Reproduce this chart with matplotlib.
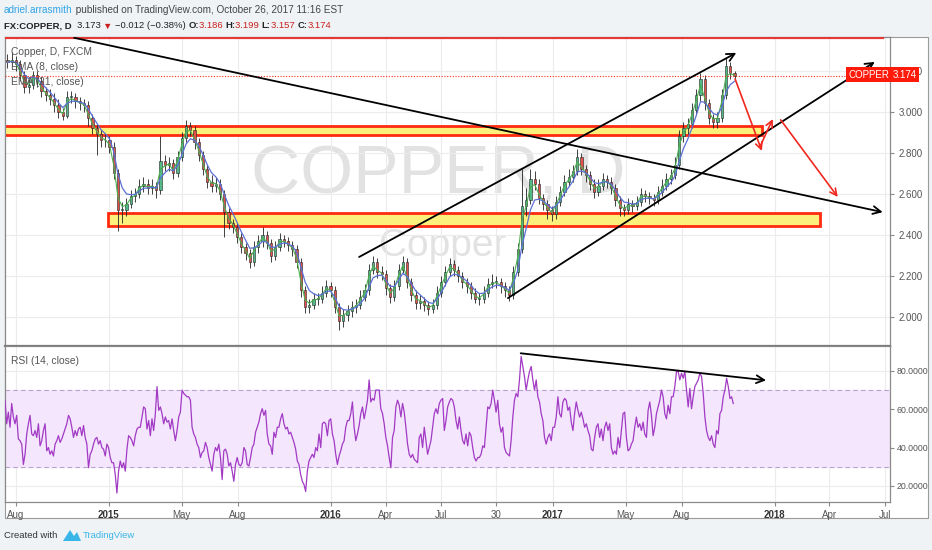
import numpy as np
import pandas as pd
import matplotlib
matplotlib.use('Agg')
import matplotlib.pyplot as plt
import matplotlib.dates as mdates
from matplotlib import font_manager
from matplotlib.patches import Rectangle, Polygon
from matplotlib.ticker import FormatStrFormatter

W, H = 932, 550
FONT = ['Liberation Sans', 'DejaVu Sans']
_names = {f.name for f in font_manager.fontManager.ttflist}
if 'Liberation Sans Narrow' in _names:
    HFONT, HSIZE = ['Liberation Sans Narrow', 'DejaVu Sans'], 8.4
else:
    HFONT, HSIZE = FONT, 6.8

# weekly candles (close, high, low); open = previous close
close = [3.24, 3.25, 3.23, 3.18, 3.12, 3.13, 3.18, 3.15, 3.10, 3.08, 3.06, 3.03, 3.00, 2.98, 3.07, 3.07,
         3.05, 3.04, 3.03, 2.97, 2.92, 2.89, 2.86, 2.86, 2.83, 2.70, 2.52, 2.52, 2.55, 2.59, 2.60, 2.64,
         2.65, 2.63, 2.64, 2.62, 2.76, 2.74, 2.75, 2.70, 2.78, 2.87, 2.93, 2.91, 2.85, 2.79, 2.72, 2.66,
         2.64, 2.65, 2.60, 2.51, 2.46, 2.44, 2.39, 2.34, 2.31, 2.27, 2.34, 2.37, 2.40, 2.36, 2.30, 2.34,
         2.38, 2.37, 2.35, 2.33, 2.27, 2.13, 2.05, 2.06, 2.09, 2.09, 2.12, 2.15, 2.13, 2.05, 1.98, 2.01,
         2.03, 2.05, 2.06, 2.10, 2.13, 2.23, 2.27, 2.22, 2.21, 2.14, 2.10, 2.15, 2.23, 2.27, 2.17, 2.11,
         2.07, 2.08, 2.06, 2.04, 2.06, 2.12, 2.17, 2.22, 2.26, 2.23, 2.20, 2.17, 2.15, 2.12, 2.09, 2.09,
         2.12, 2.16, 2.17, 2.17, 2.15, 2.13, 2.11, 2.22, 2.33, 2.54, 2.57, 2.67, 2.65, 2.58, 2.55, 2.52,
         2.50, 2.56, 2.61, 2.66, 2.68, 2.71, 2.78, 2.72, 2.69, 2.65, 2.61, 2.64, 2.67, 2.66, 2.63, 2.57,
         2.53, 2.52, 2.55, 2.54, 2.56, 2.60, 2.59, 2.58, 2.57, 2.61, 2.64, 2.67, 2.69, 2.74, 2.88, 2.92,
         2.94, 3.01, 3.08, 3.16, 3.04, 2.97, 2.95, 2.97, 3.08, 3.22, 3.19, 3.174]
high = [3.28, 3.29, 3.27, 3.25, 3.20, 3.16, 3.20, 3.20, 3.17, 3.12, 3.11, 3.09, 3.06, 3.02, 3.10, 3.10,
        3.09, 3.07, 3.06, 3.05, 2.99, 2.94, 2.91, 2.89, 2.88, 2.85, 2.72, 2.56, 2.58, 2.62, 2.63, 2.67,
        2.68, 2.67, 2.67, 2.66, 2.88, 2.79, 2.78, 2.77, 2.81, 2.90, 2.96, 2.95, 2.93, 2.87, 2.81, 2.74,
        2.69, 2.68, 2.67, 2.62, 2.53, 2.48, 2.46, 2.41, 2.36, 2.33, 2.37, 2.40, 2.44, 2.42, 2.38, 2.37,
        2.41, 2.40, 2.39, 2.37, 2.35, 2.29, 2.15, 2.09, 2.12, 2.12, 2.15, 2.18, 2.17, 2.15, 2.07, 2.04,
        2.06, 2.08, 2.09, 2.13, 2.16, 2.26, 2.30, 2.29, 2.25, 2.23, 2.16, 2.18, 2.26, 2.30, 2.29, 2.19,
        2.13, 2.11, 2.10, 2.08, 2.09, 2.15, 2.20, 2.25, 2.29, 2.28, 2.25, 2.22, 2.19, 2.17, 2.14, 2.12,
        2.15, 2.19, 2.21, 2.20, 2.19, 2.17, 2.15, 2.25, 2.36, 2.72, 2.63, 2.72, 2.71, 2.67, 2.60, 2.57,
        2.54, 2.59, 2.64, 2.69, 2.72, 2.74, 2.82, 2.80, 2.74, 2.71, 2.67, 2.67, 2.70, 2.69, 2.68, 2.65,
        2.59, 2.55, 2.58, 2.57, 2.59, 2.63, 2.62, 2.61, 2.60, 2.64, 2.67, 2.70, 2.72, 2.78, 2.91, 2.95,
        2.97, 3.04, 3.11, 3.19, 3.18, 3.06, 2.99, 3.00, 3.11, 3.26, 3.24, 3.20]
low = [3.21, 3.22, 3.20, 3.15, 3.09, 3.09, 3.11, 3.12, 3.07, 3.05, 3.03, 3.00, 2.97, 2.96, 2.97, 3.04,
       3.02, 3.01, 3.00, 2.93, 2.89, 2.79, 2.83, 2.83, 2.80, 2.67, 2.42, 2.46, 2.49, 2.53, 2.56, 2.58,
       2.61, 2.60, 2.60, 2.58, 2.60, 2.71, 2.71, 2.67, 2.68, 2.76, 2.85, 2.88, 2.82, 2.76, 2.69, 2.63,
       2.61, 2.61, 2.57, 2.39, 2.43, 2.41, 2.36, 2.31, 2.28, 2.24, 2.25, 2.31, 2.34, 2.33, 2.27, 2.28,
       2.32, 2.34, 2.32, 2.30, 2.24, 2.10, 2.02, 2.02, 2.04, 2.06, 2.07, 2.10, 2.10, 2.02, 1.94, 1.95,
       1.98, 2.00, 2.02, 2.04, 2.08, 2.11, 2.21, 2.19, 2.18, 2.11, 2.07, 2.08, 2.13, 2.21, 2.14, 2.08,
       2.04, 2.04, 2.03, 2.01, 2.02, 2.04, 2.10, 2.15, 2.20, 2.20, 2.17, 2.14, 2.12, 2.09, 2.07, 2.06,
       2.07, 2.10, 2.14, 2.14, 2.12, 2.10, 2.08, 2.09, 2.20, 2.31, 2.49, 2.55, 2.62, 2.55, 2.52, 2.48,
       2.47, 2.48, 2.54, 2.59, 2.64, 2.66, 2.69, 2.69, 2.66, 2.62, 2.58, 2.59, 2.62, 2.63, 2.60, 2.54,
       2.49, 2.49, 2.50, 2.51, 2.52, 2.54, 2.56, 2.55, 2.54, 2.55, 2.59, 2.62, 2.65, 2.67, 2.72, 2.85,
       2.89, 2.92, 2.99, 3.05, 3.01, 2.94, 2.92, 2.92, 2.95, 3.06, 3.16, 3.16]
first_open = 3.25
week_start = '2014-07-18'

rsi = [64.7, 52.4, 58.5, 50.6, 63.0, 56.0, 52.4, 56.8, 44.5, 43.6, 41.8, 31.2, 36.5, 47.1, 52.4, 56.8,
       47.1, 46.2, 48.9, 45.3, 52.4, 40.9, 43.6, 48.9, 52.4, 38.3, 40.0, 36.5, 38.3, 35.6, 41.8, 43.6,
       46.2, 42.7, 44.5, 47.1, 49.7, 52.4, 56.8, 55.0, 50.6, 45.3, 48.9, 46.2, 49.7, 50.6, 46.2, 51.5,
       45.3, 41.8, 29.5, 36.5, 38.3, 41.8, 44.5, 45.3, 41.8, 43.6, 40.0, 39.2, 35.6, 41.8, 40.0, 34.8,
       32.1, 32.1, 26.0, 16.3, 27.7, 33.0, 29.5, 32.1, 27.7, 39.2, 46.2, 45.3, 43.6, 40.9, 46.2, 49.7,
       50.6, 50.6, 56.0, 61.2, 60.3, 49.7, 54.1, 46.2, 55.0, 48.9, 57.7, 71.8, 59.4, 61.2, 57.7, 52.4,
       56.0, 53.3, 54.1, 49.7, 55.0, 48.9, 43.6, 48.9, 56.0, 58.5, 70.0, 68.2, 67.4, 66.5, 66.5, 64.7,
       50.6, 47.1, 45.3, 41.8, 40.0, 34.8, 37.4, 38.3, 42.7, 40.0, 34.8, 31.2, 27.7, 36.5, 40.0, 38.3,
       41.8, 34.8, 23.3, 38.3, 39.2, 36.5, 30.4, 32.1, 27.7, 22.4, 31.2, 34.8, 31.2, 30.4, 32.1, 40.0,
       38.3, 31.2, 30.4, 34.8, 40.0, 41.8, 48.0, 50.6, 53.3, 57.7,
       60.3, 56.8, 59.4, 47.1, 41.8, 40.9, 36.5, 48.0, 45.3, 50.6, 50.6, 55.0, 57.7, 52.4, 49.7, 50.6,
       47.1, 48.0, 45.3, 42.7, 39.2, 33.0, 31.2, 26.0, 22.4, 20.7, 17.1, 27.7, 33.0, 34.8, 36.5, 34.8,
       40.0, 38.3, 47.1, 40.0, 52.4, 53.3, 52.4, 46.2, 54.1, 55.0, 47.1, 43.6, 36.5, 31.2, 35.6, 38.3,
       41.8, 43.6, 50.6, 54.1, 54.1, 57.7, 63.8, 50.6, 43.6, 47.1, 51.5, 57.7, 61.2, 55.0, 59.4, 64.7,
       75.3, 63.8, 65.6, 64.7, 70.0, 70.0, 70.0, 60.3, 57.7, 52.4, 45.3, 40.9, 34.8, 29.5, 45.3, 48.9,
       61.2, 64.7, 62.1, 56.0, 63.0, 58.5, 50.6, 41.8, 36.5, 34.8, 36.5, 33.9, 33.0, 32.1, 45.3, 47.1,
       40.0, 50.6, 43.6, 36.5, 40.0, 43.6, 50.6, 57.7, 60.3, 57.7, 63.0, 64.7, 65.6, 48.9, 54.1, 61.2,
       63.8, 65.6, 64.7, 61.2, 54.1, 49.7, 56.0, 48.9, 43.6, 41.8, 47.1, 40.9, 48.0, 46.2, 40.0, 34.8,
       33.0, 34.8, 34.8, 36.5, 40.9, 40.0, 50.6, 61.2, 60.3, 63.0, 70.0, 64.7, 58.5, 64.7, 52.4,
       48.0, 50.6, 40.0, 37.4, 36.5, 35.6, 43.6, 55.9, 64.7, 68.2, 66.5, 75.3, 87.6, 82.3, 77.0, 70.0,
       75.3, 79.7, 82.3, 75.3, 70.0, 75.3, 66.5, 63.8, 57.7, 54.1, 45.3, 41.8, 45.3, 47.1, 43.6, 50.6,
       50.6, 55.9, 66.5, 57.7, 55.9, 63.8, 65.6, 64.7, 59.4, 61.2, 53.3, 48.9, 57.7, 63.8, 59.4, 55.9,
       58.5, 55.0, 50.6, 52.4, 48.9, 46.2, 39.2, 38.3, 45.3, 50.6, 52.4, 45.3, 49.7, 43.6, 50.6, 53.3,
       48.9, 52.4, 40.0, 36.5, 38.3, 36.5, 45.3, 40.0, 48.9, 57.7, 58.5, 45.3, 38.3, 39.2, 41.8, 43.6,
       50.6, 55.9, 50.6, 52.4, 48.9, 53.3, 47.1, 45.3, 59.4, 63.8, 56.8, 46.2, 50.6, 57.7, 61.2, 64.7,
       70.0, 66.5, 57.7, 55.0, 62.1, 57.7, 66.5, 66.5, 71.8, 79.7, 79.7, 75.3, 78.8, 76.2, 79.7, 70.0,
       61.2, 70.9, 60.3, 66.5, 71.8, 73.5, 75.3, 78.8, 77.0, 68.2, 55.9, 48.9, 45.3, 43.6, 46.2, 41.8,
       40.0, 48.9, 47.1, 57.7, 59.4, 66.5, 70.0, 76.2, 71.8, 65.6, 66.5, 63.0]
rsi_start, rsi_end = '2014-07-14', '2017-10-25'

last_price = 3.174
price_ticks = [2.0, 2.2, 2.4, 2.6, 2.8, 3.0, 3.2]
rsi_ticks = [20, 40, 60, 80]
x_ticks = ['2014-08-01', '2015-01-01', '2015-05-01', '2015-08-01', '2016-01-01', '2016-04-01',
           '2016-07-01', '2016-09-30', '2017-01-01', '2017-05-01', '2017-08-01', '2018-01-01',
           '2018-04-01', '2018-07-01']
x_labels = ['Aug', '2015', 'May', 'Aug', '2016', 'Apr', 'Jul', '30', '2017', 'May', 'Aug', '2018', 'Apr', 'Jul']

# drawings on the chart
black_arrows = [(('2014-11-05', 3.359), ('2018-06-28', 2.511)),
                (('2016-02-17', 2.293), ('2017-10-30', 3.286)),
                (('2016-10-19', 2.093), ('2018-06-15', 3.242))]
red_arrows = [(('2017-10-28', 3.159), ('2017-12-11', 2.809)),
              (('2017-12-08', 2.830), ('2017-12-29', 2.964)),
              (('2018-01-11', 2.960), ('2018-04-15', 2.585))]
zones = [('2014-07-01', '2017-12-12', 2.884, 2.931),
         ('2014-12-31', '2018-03-16', 2.446, 2.506)]
rsi_arrow = (('2016-11-09', 89.2), ('2017-12-18', 75.1))

x_lo, x_hi = pd.Timestamp('2014-07-14'), pd.Timestamp('2018-07-10')

# ---------------------------------------------------------------
fig = plt.figure(figsize=(W / 100, H / 100), dpi=100, facecolor='#f0f3f6')


def fx(px):
    return px / W


def fy(py):
    return 1 - py / H


fig.patches.append(Rectangle((fx(5), fy(518)), fx(928) - fx(5), fy(37) - fy(518),
                             transform=fig.transFigure, facecolor='white', edgecolor='#9a9a9a',
                             lw=0.8, zorder=-10))

ax = fig.add_axes([fx(5), fy(346), fx(890) - fx(5), fy(37) - fy(346)])
axr = fig.add_axes([fx(5), fy(502), fx(890) - fx(5), fy(346) - fy(502)], sharex=ax)

for a in (ax, axr):
    a.set_facecolor('white')
    a.grid(True, color='#ececec', lw=0.8)
    a.set_axisbelow(True)
    for s in a.spines.values():
        s.set_color('#8a8a8a')
        s.set_linewidth(0.9)
    a.yaxis.tick_right()
    a.tick_params(axis='y', direction='out', length=3, pad=3, labelsize=7,
                  colors='#8a8a8a', labelcolor='#555555')
axr.tick_params(axis='y', labelsize=6.3, pad=2)
ax.spines['bottom'].set_linewidth(1.6)
ax.spines['bottom'].set_color('#777777')

# watermark
ax.text(0.49, 0.555, 'COPPER, D', transform=ax.transAxes, fontsize=49, color='#e2e2e2',
        family=FONT, ha='center', va='center', zorder=0.5)
ax.text(0.495, 0.325, 'Copper', transform=ax.transAxes, fontsize=28, color='#e2e2e2',
        family=FONT, ha='center', va='center', zorder=0.5)

# zones
for d0, d1, y0, y1 in zones:
    x0, x1 = mdates.date2num(pd.Timestamp(d0)), mdates.date2num(pd.Timestamp(d1))
    ax.add_patch(Rectangle((x0, y0), x1 - x0, y1 - y0, facecolor='#fbf07c', edgecolor='#ff2a10',
                           lw=2.0, zorder=1.5))

# candles
dates = pd.date_range(week_start, periods=len(close), freq='7D')
xd = mdates.date2num(dates)
opens = [first_open] + close[:-1]
ax.vlines(xd, low, high, color='#222222', lw=0.6, zorder=3)
for x, o, c in zip(xd, opens, close):
    col = '#53b987' if c >= o else '#e0524a'
    bot, hgt = min(o, c), max(abs(c - o), 0.004)
    ax.add_patch(Rectangle((x - 1.8, bot), 3.6, hgt, facecolor=col, edgecolor='#222222',
                           lw=0.4, zorder=3.2))

# EMA(8) and EMA(21) of daily data, applied to weekly closes (5 sessions per week)
s = pd.Series(close, index=dates)
ema8 = s.ewm(alpha=1 - (1 - 2 / 9) ** 5, adjust=False).mean()
ema21 = s.ewm(alpha=1 - (1 - 2 / 22) ** 5, adjust=False).mean()
ax.plot(dates, ema8, color='#4caf50', lw=0.8, zorder=4)
ax.plot(dates, ema21, color='#5b6fd6', lw=0.9, zorder=4)

# price lines
ax.axhline(3.357, xmin=0, xmax=(883 - 5) / 885, color='#e53935', lw=1.6, zorder=5)
ax.axhline(last_price, xmin=0, xmax=(850 - 5) / 885, color='#ff2a1a', lw=0.8, ls=(0, (1, 1.5)), zorder=5)

for (d0, p0), (d1, p1) in black_arrows:
    ax.annotate('', xy=(pd.Timestamp(d1), p1), xytext=(pd.Timestamp(d0), p0),
                arrowprops=dict(arrowstyle='->', color='black', lw=1.3, mutation_scale=14,
                                shrinkA=0, shrinkB=0), zorder=6, annotation_clip=False)
for (d0, p0), (d1, p1) in red_arrows:
    ax.annotate('', xy=(pd.Timestamp(d1), p1), xytext=(pd.Timestamp(d0), p0),
                arrowprops=dict(arrowstyle='->', color='#f0281e', lw=1.2, mutation_scale=12,
                                shrinkA=0, shrinkB=0), zorder=6)

ax.set_ylim(1.860, 3.363)
ax.set_yticks(price_ticks)
ax.yaxis.set_major_formatter(FormatStrFormatter('%.3f'))
ax.tick_params(axis='x', length=0, labelbottom=False)

# legend texts
for py, txt in [(52, 'Copper, D, FXCM'), (67, 'EMA (8, close)'), (82, 'EMA (21, close)')]:
    fig.text(fx(11), fy(py), txt, fontsize=HSIZE + 0.6, color='#555555', family=HFONT, va='center', zorder=10)

# last price labels
fig.text(fx(869), fy(74.5), 'COPPER', fontsize=7, color='white', family=FONT, ha='center', va='center',
         bbox=dict(boxstyle='square,pad=0.25', facecolor='#ff1a0a', edgecolor='none'), zorder=10)
fig.text(fx(905), fy(74.5), '%.3f' % last_price, fontsize=7, color='white', family=FONT, ha='center',
         va='center', bbox=dict(boxstyle='square,pad=0.25', facecolor='#ff1a0a', edgecolor='none'), zorder=10)

# RSI pane
rsi_dates = pd.date_range(rsi_start, rsi_end, periods=len(rsi))
axr.axhspan(30, 70, color='#f3e6fd', zorder=0.8)
axr.axhline(70, color='#b9a3cc', lw=0.8, ls=(0, (4, 3)), zorder=1)
axr.axhline(30, color='#b9a3cc', lw=0.8, ls=(0, (4, 3)), zorder=1)
axr.plot(rsi_dates, rsi, color='#a23ac4', lw=0.9, zorder=3)
(d0, r0), (d1, r1) = rsi_arrow
axr.annotate('', xy=(pd.Timestamp(d1), r1), xytext=(pd.Timestamp(d0), r0),
             arrowprops=dict(arrowstyle='->', color='black', lw=1.3, mutation_scale=14,
                             shrinkA=0, shrinkB=0), zorder=6)
axr.set_ylim(11.6, 93)
axr.set_yticks(rsi_ticks)
axr.yaxis.set_major_formatter(FormatStrFormatter('%.4f'))
fig.text(fx(11), fy(361), 'RSI (14, close)', fontsize=HSIZE + 0.6, color='#555555', family=HFONT, va='center')

axr.set_xlim(x_lo, x_hi)
axr.set_xticks([pd.Timestamp(d) for d in x_ticks])
axr.set_xticklabels(x_labels)
axr.tick_params(axis='x', direction='out', length=3, pad=3, labelsize=7, colors='#8a8a8a',
                labelcolor='#555555')
for lab in axr.get_xticklabels():
    lab.set_family(HFONT)
    if lab.get_text().isdigit() and len(lab.get_text()) == 4:
        lab.set_fontweight('bold')
        lab.set_color('#333333')
for lab in ax.get_yticklabels() + axr.get_yticklabels():
    lab.set_family(HFONT)

# header and footer
renderer = fig.canvas.get_renderer()


def seq_text(x_px, y_px, parts, size):
    x = x_px
    for txt, color, weight in parts:
        t = fig.text(fx(x), fy(y_px), txt, color=color, fontsize=size, fontweight=weight,
                     family=HFONT, va='center', ha='left')
        x += t.get_window_extent(renderer).width


seq_text(4, 10, [('adriel.arrasmith', '#2fa4e7', 'normal'),
                 (' published on TradingView.com, October 26, 2017 11:16 EST', '#444444', 'normal')], HSIZE + 0.4)
red = '#c8201e'
seq_text(4, 26, [('FX:COPPER, D  ', '#222222', 'bold'), ('3.173 ', '#222222', 'normal'),
                 ('\u25bc ', red, 'normal'), ('\u22120.012 (\u22120.38%) ', '#222222', 'normal'),
                 ('O:', '#222222', 'bold'), ('3.186 ', red, 'normal'),
                 ('H:', '#222222', 'bold'), ('3.199 ', red, 'normal'),
                 ('L:', '#222222', 'bold'), ('3.157 ', red, 'normal'),
                 ('C:', '#222222', 'bold'), ('3.174', red, 'normal')], HSIZE)

seq_text(4, 536, [('Created with', '#333333', 'normal')], HSIZE)
fig.patches.append(Polygon([(fx(63), fy(541)), (fx(70), fy(530)), (fx(74), fy(536)), (fx(77), fy(532)),
                            (fx(81), fy(541))], closed=True, transform=fig.transFigure,
                           facecolor='#3ab5e8', edgecolor='none'))
seq_text(83, 536, [('TradingView', '#3ab5e8', 'normal')], HSIZE)

fig.savefig('out.png', dpi=100, facecolor=fig.get_facecolor())
